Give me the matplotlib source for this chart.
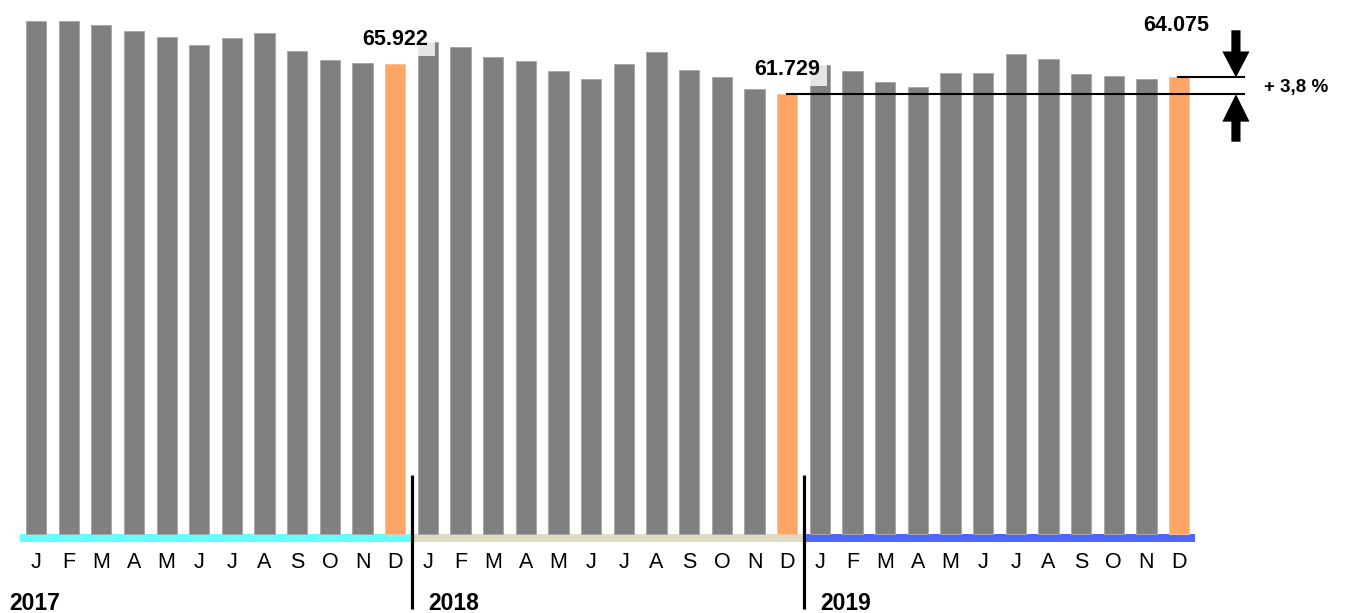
import numpy as np
import matplotlib.pyplot as plt

plt.rcParams['font.family'] = ['Liberation Sans', 'DejaVu Sans']

# monthly figures, three years
months = ['J', 'F', 'M', 'A', 'M', 'J', 'J', 'A', 'S', 'O', 'N', 'D']
years = ['2017', '2018', '2019']
values_2017 = [71.96, 72.04, 71.48, 70.64, 69.71, 68.59, 69.66, 70.36, 67.83, 66.53, 66.15, 65.922]
values_2018 = [69.10, 68.39, 66.99, 66.43, 65.03, 63.82, 65.96, 67.70, 65.12, 64.10, 62.50, 61.729]
values_2019 = [65.78, 64.94, 63.49, 62.74, 64.66, 64.66, 67.33, 66.62, 64.56, 64.33, 63.86, 64.075]
year_colors = ['#66ffff', '#e0dcc2', '#4d66ff']

GREY = '#808080'
ORANGE = '#ffa566'

all_values = np.array(values_2017 + values_2018 + values_2019)
x = np.arange(len(all_values))
colors = [ORANGE if (i % 12) == 11 else GREY for i in x]
edges = ['#ffc090' if (i % 12) == 11 else '#a8a8a8' for i in x]

fig = plt.figure(figsize=(13.46, 6.13), dpi=100)
ax = fig.add_axes([0, 0, 1, 1])
ax.set_xlim(-1.102, 40.11)
ax.set_ylim(-11.09, 74.95)
ax.axis('off')

ax.bar(x, all_values, width=0.62, color=colors, edgecolor=edges, linewidth=0.7, zorder=2)

# coloured year strips under the bars
for k, col in enumerate(year_colors):
    ax.bar(12 * k + 5.5, -1.08, width=12, bottom=0, color=col, linewidth=0, zorder=1)

# month letters and year captions
for i in x:
    ax.text(i, -3.95, months[i % 12], ha='center', va='center', fontsize=15.5, zorder=4)
year_x = [-0.82, 12.0, 24.0]
for k, yr in enumerate(years):
    ax.text(year_x[k], -9.7, yr, ha='left', va='center', fontsize=16.5, fontweight='bold')

# year separators
for sep in [11.5, 23.5]:
    ax.plot([sep, sep], [-10.5, 8.28], color='black', lw=2.3, solid_capstyle='butt', zorder=5)

# value labels for December bars
box = dict(boxstyle='square,pad=0.3', facecolor='white', edgecolor='none', alpha=0.8)
dec_2017, dec_2018, dec_2019 = values_2017[-1], values_2018[-1], values_2019[-1]
for xi, val, off in [(11, dec_2017, 3.5), (23, dec_2018, 3.5), (34.9, dec_2019, 7.3)]:
    ax.text(xi, val + off, f'{val:.3f}', ha='center', va='center', fontsize=15.5,
            fontweight='bold', bbox=box, zorder=3)

# reference lines and change arrows
ax.plot([22.99, 36.99], [dec_2018, dec_2018], color='black', lw=1.5, zorder=6)
ax.plot([34.97, 36.99], [dec_2019, dec_2019], color='black', lw=1.5, zorder=6)
ax.arrow(36.74, 70.7, 0, dec_2019 - 70.7, width=0.28, head_width=0.83, head_length=3.65,
         length_includes_head=True, color='black', lw=0, zorder=6)
ax.arrow(36.74, 55.06, 0, dec_2018 - 55.06, width=0.28, head_width=0.83, head_length=3.85,
         length_includes_head=True, color='black', lw=0, zorder=6)

pct = (dec_2019 / dec_2018 - 1) * 100
ax.text(37.6, (dec_2019 + dec_2018) / 2 - 0.3, f'+ {pct:.1f} %'.replace('.', ','),
        ha='left', va='center', fontsize=13.5, fontweight='bold')

fig.savefig('out.png', dpi=100)
